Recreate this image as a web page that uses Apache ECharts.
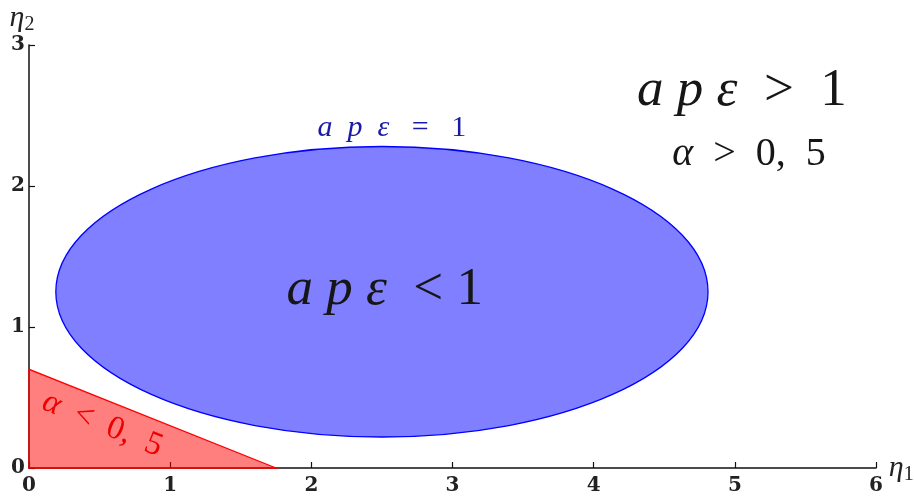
<!DOCTYPE html>
<html>
<head>
<meta charset="UTF-8">
<title>ape regions</title>
<script src="https://cdn.jsdelivr.net/npm/echarts@6/dist/echarts.min.js"></script>
</head>
<body style="margin:0">
<div id="main" style="width:914px;height:498px;"></div>
<script type="text/javascript">
// region data
var ellipseCenter = [2.5, 1.25];
var ellipseRadius = [2.31, 1.03];
var triangle = [[0, 0], [0, 0.7], [1.75, 0]];
var xTicks = [0, 1, 2, 3, 4, 5, 6];
var yTicks = [0, 1, 2, 3];
// annotations: [x, y, kind]
var notes = [
	[2.57, 2.41, 'eq'],
	[2.52, 1.26, 'lt'],
	[5.05, 2.67, 'gt'],
	[5.1, 2.22, 'alphaGt'],
	[0.52, 0.31, 'alphaLt']
];

var myChart = echarts.init(document.getElementById('main'));

var MATH = 'Liberation Serif';
var TICK = 'DejaVu Serif';

function richSet(size, color) {
	return {
		i: { fontFamily: MATH, fontStyle: 'italic', fontSize: size, color: color },
		u: { fontFamily: MATH, fontSize: size, color: color }
	};
}

var noteText = {
	eq: '{i|a  p  ε}{u|   =   1}',
	lt: '{i|a p ε}{u|  < 1}',
	gt: '{i|a p ε}{u|  >  1}',
	alphaGt: '{i|α}{u|  >  0,  5}',
	alphaLt: '{i|α}{u|  <  0,  5}'
};
var noteStyle = {
	eq: richSet(30, '#1a1aa8'),
	lt: richSet(53, '#161616'),
	gt: richSet(53, '#161616'),
	alphaGt: richSet(40, '#161616'),
	alphaLt: richSet(33, '#ee0000')
};
var noteRotate = { alphaLt: -22 };

var nameRich = {
	i: { fontFamily: MATH, fontStyle: 'italic', fontSize: 30, color: '#222' },
	s: { fontFamily: MATH, fontSize: 20, color: '#222', padding: [13, 0, 0, 0] }
};

var option = {
	animation: false,
	backgroundColor: '#ffffff',
	grid: { left: 29, right: 38, top: 45, bottom: 30, outerBoundsMode: 'none' },
	xAxis: {
		type: 'value',
		min: 0, max: 6, interval: 1,
		name: '{i|η}{s|1}',
		nameLocation: 'end',
		nameGap: 3,
		nameTextStyle: { rich: nameRich },
		axisLine: { lineStyle: { color: '#111', width: 1.5 } },
		axisTick: { inside: true, length: 6, lineStyle: { color: '#111', width: 1.2 } },
		axisLabel: {
			margin: 8,
			fontFamily: TICK, fontWeight: 'bold', fontSize: 20, color: '#222',
			formatter: function (v) { return xTicks.indexOf(v) >= 0 ? String(v) : ''; }
		},
		splitLine: { show: false }
	},
	yAxis: {
		type: 'value',
		min: 0, max: 3, interval: 1,
		name: '{i|η}{s|2}',
		nameLocation: 'end',
		nameGap: 2,
		nameTextStyle: {
			align: 'center',
			padding: [0, 14, 0, 0],
			rich: nameRich
		},
		axisLine: { lineStyle: { color: '#111', width: 1.5 } },
		axisTick: { inside: true, length: 6, lineStyle: { color: '#111', width: 1.2 } },
		axisLabel: {
			margin: 4,
			fontFamily: TICK, fontWeight: 'bold', fontSize: 20, color: '#222',
			formatter: function (v) { return yTicks.indexOf(v) >= 0 ? String(v) : ''; }
		},
		splitLine: { show: false }
	},
	series: [
		{
			// red region alpha < 0.5
			type: 'custom',
			data: [0],
			renderItem: function (params, api) {
				var pts = triangle.map(function (p) { return api.coord(p); });
				return {
					type: 'polygon',
					shape: { points: pts },
					style: { fill: 'rgba(255,0,0,0.5)', stroke: '#ff0000', lineWidth: 1.3 }
				};
			},
			z: 1
		},
		{
			// blue ellipse ape < 1
			type: 'custom',
			data: [ellipseCenter],
			renderItem: function (params, api) {
				var c = api.coord(ellipseCenter);
				var s = api.size(ellipseRadius, ellipseCenter);
				return {
					type: 'ellipse',
					shape: { cx: c[0], cy: c[1], rx: s[0], ry: s[1] },
					style: { fill: 'rgba(0,0,255,0.5)', stroke: '#0000ff', lineWidth: 1.3 }
				};
			},
			z: 2
		},
		{
			type: 'scatter',
			symbolSize: 0,
			silent: true,
			z: 5,
			itemStyle: { opacity: 1 },
			data: notes.map(function (n) {
				return {
					value: [n[0], n[1]],
					label: {
						show: true,
						position: 'inside',
						rotate: noteRotate[n[2]] || 0,
						formatter: noteText[n[2]],
						rich: noteStyle[n[2]]
					}
				};
			})
		}
	]
};

myChart.setOption(option);
</script>
</body>
</html>
